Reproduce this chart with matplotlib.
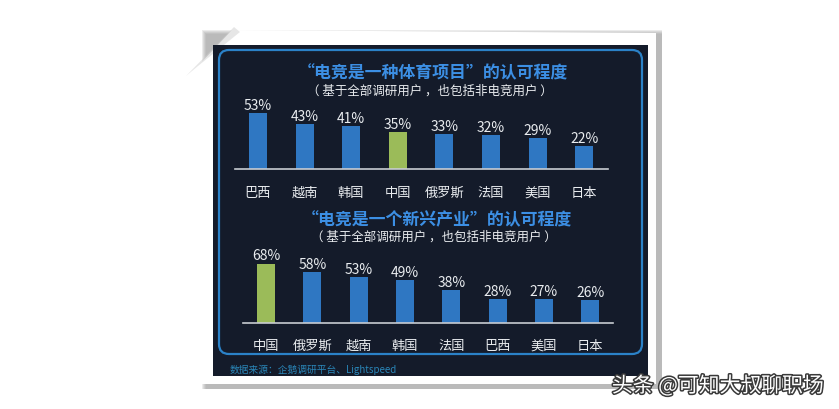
import numpy as np
import matplotlib.pyplot as plt
from matplotlib.patches import FancyBboxPatch, Rectangle, Polygon
import matplotlib.patheffects as pe

plt.rcParams['font.family'] = ['Noto Sans CJK SC', 'DejaVu Sans']

# ---------------- data ----------------
title1 = "“电竞是一种体育项目”的认可程度"
countries1 = ["巴西", "越南", "韩国", "中国", "俄罗斯", "法国", "美国", "日本"]
values1 = [53, 43, 41, 35, 33, 32, 29, 22]

title2 = "“电竞是一个新兴产业”的认可程度"
countries2 = ["中国", "俄罗斯", "越南", "韩国", "法国", "巴西", "美国", "日本"]
values2 = [68, 58, 53, 49, 38, 28, 27, 26]

subtitle = "（ 基于全部调研用户 ，也包括非电竞用户 ）"
source = "数据来源：企鹅调研平台、Lightspeed"
watermark = "头条 @可知大叔聊职场"

W, H = 839, 409
BLUE = '#2f77c2'
GREEN = '#9bbb59'
TITLE_BLUE = '#3c8fe4'
PANEL = '#141b2a'
TXT = '#e9ecef'

fig = plt.figure(figsize=(W / 100, H / 100), dpi=100)
fig.patch.set_facecolor('white')

# background layer in pixel coordinates
bg = fig.add_axes([0, 0, 1, 1])
bg.set_xlim(0, W)
bg.set_ylim(H, 0)
bg.axis('off')

# paper shadow
for i, a in enumerate([0.04, 0.05, 0.06, 0.07, 0.08]):
    d = 6 - i
    bg.add_patch(Rectangle((200 + d, 28 + d), 458 - d + 4, 357 - d + 4,
                           facecolor='#000000', alpha=a, lw=0))
bg.add_patch(Polygon([(232, 30), (196, 68), (196, 384), (656, 384), (656, 33)],
                     closed=True, facecolor='white', edgecolor='none'))
# curled corner at the top left
bg.add_patch(Polygon([(234, 27), (186, 76), (198, 66), (240, 32)],
                     closed=True, facecolor='#cfcfcf', edgecolor='none', alpha=0.5))

# dark panel
bg.add_patch(Rectangle((213, 45), 435, 331, facecolor=PANEL, lw=0))
bg.add_patch(FancyBboxPatch((219, 50), 423, 304,
                            boxstyle='round,pad=0,rounding_size=10',
                            facecolor='none', edgecolor='#2b82c8', lw=1.6))

bg.text(230, 370, source, color='#2a86b8', fontsize=7, va='center', ha='left')

bg.text(718, 386, watermark, color='white', fontsize=15, va='center', ha='center',
        path_effects=[pe.withStroke(linewidth=2.2, foreground='#3a3a3a')])


def bar_chart(left, base, spacing, px_per_pct, ymax, cats, vals, hi, pad):
    width = 8 * spacing
    height = ymax * px_per_pct
    ax = fig.add_axes([left / W, (H - base) / H, width / W, height / H])
    ax.patch.set_alpha(0)
    x = np.arange(len(cats))
    colors = [GREEN if c == hi else BLUE for c in cats]
    bars = ax.bar(x, vals, width=0.39, color=colors)
    for b, v in zip(bars, vals):
        ax.annotate(f"{v}%", (b.get_x() + b.get_width() / 2, v), xytext=(0, 0),
                    textcoords='offset points', ha='center', va='bottom',
                    color=TXT, fontsize=10)
    ax.set_xlim(-0.5, 7.5)
    ax.set_ylim(0, ymax)
    for s in ['top', 'right', 'left']:
        ax.spines[s].set_visible(False)
    ax.spines['bottom'].set_color('#c8ccd2')
    ax.spines['bottom'].set_linewidth(1.2)
    ax.set_yticks([])
    ax.set_xticks(x)
    ax.set_xticklabels(cats, color=TXT, fontsize=9.5)
    ax.tick_params(axis='x', length=0, pad=pad)
    return ax


bar_chart(234.7, 169, 46.6, 1.057, 60, countries1, values1, "中国", 13)
bar_chart(242.9, 323, 46.3, 0.875, 75, countries2, values2, "中国", 12)

bg.text(433, 73, title1, color=TITLE_BLUE, fontsize=12.2, fontweight='bold',
        ha='center', va='center')
bg.text(430, 91, subtitle, color=TXT, fontsize=9, ha='center', va='center')
bg.text(437, 220, title2, color=TITLE_BLUE, fontsize=12.2, fontweight='bold',
        ha='center', va='center')
bg.text(434, 237, subtitle, color=TXT, fontsize=9, ha='center', va='center')

fig.savefig('out.png', dpi=100, facecolor=fig.get_facecolor())
